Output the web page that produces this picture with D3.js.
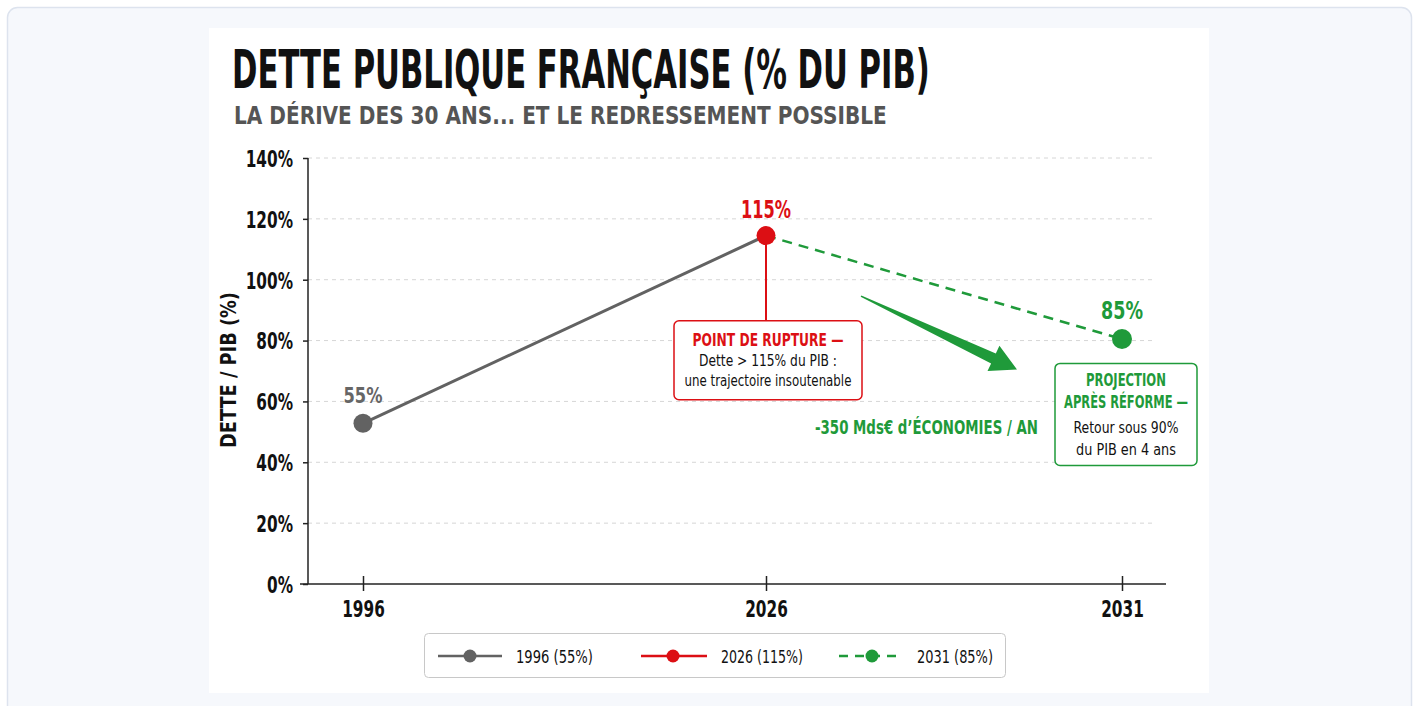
<!DOCTYPE html>
<html><head><meta charset="utf-8">
<script src="https://cdn.jsdelivr.net/npm/d3@7"></script>
<style>
html,body{margin:0;padding:0;background:#ffffff;}
svg{display:block;}
text{font-family:"DejaVu Sans Condensed","Liberation Sans Narrow",sans-serif;}
</style></head>
<body>
<svg id="chart" width="1416" height="706"></svg>
<script>
// ---- data ----
const years = ["1996", "2026", "2031"];
const debtValues = [52.8, 114.5, 80.5];        // plotted positions (% of GDP)
const debtLabels = ["55%", "115%", "85%"];      // value labels shown on chart
const yTicks = [0, 20, 40, 60, 80, 100, 120, 140];
const legendLabels = ["1996 (55%)", "2026 (115%)", "2031 (85%)"];
const seriesColors = ["#626262", "#dc0f14", "#1f9a3a"];
const title = "DETTE PUBLIQUE FRANÇAISE (% DU PIB)";
const subtitle = "LA DÉRIVE DES 30 ANS... ET LE REDRESSEMENT POSSIBLE";
const yAxisTitle = "DETTE / PIB (%)";
const ruptureLines = ["POINT DE RUPTURE —", "Dette > 115% du PIB :", "une trajectoire insoutenable"];
const projectionLines = ["PROJECTION", "APRÈS RÉFORME —", "Retour sous 90%", "du PIB en 4 ans"];
const savingsText = "-350 Mds€ d’ÉCONOMIES / AN";

const svg = d3.select("#chart");
// background card
svg.append("rect").attr("x",0).attr("y",0).attr("width",1416).attr("height",706).attr("fill","#ffffff");
svg.append("rect").attr("x",7.5).attr("y",7.5).attr("width",1404).attr("height",720).attr("rx",10)
  .attr("fill","#f6f8fc").attr("stroke","#dde3ee").attr("stroke-width",1.5);
svg.append("rect").attr("x",209).attr("y",28).attr("width",1000).attr("height",665).attr("fill","#ffffff");

// condense a text horizontally (the reference uses a narrow typeface)
function condense(sel, widthFn){
  sel.each(function(d,i){
    const t = d3.select(this);
    const n = this.getComputedTextLength();
    const w = typeof widthFn === "function" ? widthFn(d,i,n) : widthFn;
    const s = w / n;
    const x0 = +t.attr("x") || 0, y0 = +t.attr("y") || 0;
    const prev = t.attr("transform") || "";
    t.attr("x",0).attr("y",0).attr("transform", prev + ` translate(${x0},${y0}) scale(${s},1)`);
  });
  return sel;
}

// titles
condense(svg.append("text").attr("x",232).attr("y",87.5).attr("font-size",53).attr("font-weight",700)
  .attr("fill","#111").text(title), 698);
condense(svg.append("text").attr("x",234).attr("y",123.5).attr("font-size",24.5).attr("font-weight",700)
  .attr("fill","#555").text(subtitle), 653);

// scales
const x = d3.scaleLinear().domain(years.map(Number)).range([363, 766, 1122]);
const y = d3.scaleLinear().domain([0, 140]).range([584, 158]);

// grid
svg.append("g").selectAll("line").data(yTicks.filter(d=>d>0)).join("line")
  .attr("x1",308).attr("x2",1156).attr("y1",d=>y(d)).attr("y2",d=>y(d))
  .attr("stroke","#d6d6d6").attr("stroke-width",1).attr("stroke-dasharray","4,4");

// y axis
const yAxis = svg.append("g").attr("transform","translate(308,0)")
  .call(d3.axisLeft(y).tickValues(yTicks).tickFormat(d=>d+"%").tickSize(5).tickPadding(10));
yAxis.select(".domain").attr("stroke","#222").attr("stroke-width",1.5).attr("d","M0,158V584");
yAxis.selectAll(".tick line").attr("stroke","#222").attr("stroke-width",1.5);
const yt = yAxis.selectAll(".tick text").attr("font-size",23).attr("font-weight",700).attr("fill","#111")
  .attr("font-family",'"DejaVu Sans Condensed",sans-serif').attr("dy","0.36em");
condense(yt, (d,i,n)=>n*0.74);

// x axis
const xAxis = svg.append("g").attr("transform","translate(0,584)")
  .call(d3.axisBottom(x).tickValues(years.map(Number)).tickFormat(d=>String(d)).tickSizeInner(8).tickSizeOuter(0).tickPadding(9));
xAxis.select(".domain").attr("stroke","#222").attr("stroke-width",1.5).attr("d","M300,0H1166");
xAxis.selectAll(".tick line").attr("stroke","#222").attr("stroke-width",1.5).attr("y1",-8).attr("y2",7);
const xt = xAxis.selectAll(".tick text").attr("font-size",23).attr("font-weight",700).attr("fill","#111")
  .attr("font-family",'"DejaVu Sans Condensed",sans-serif');
condense(xt, (d,i,n)=>n*0.74);

// y axis title
svg.append("text").attr("transform","translate(236,370) rotate(-90)").attr("text-anchor","middle")
  .attr("font-size",21).attr("font-weight",700).attr("fill","#111").text(yAxisTitle)
  .attr("textLength",156).attr("lengthAdjust","spacingAndGlyphs");

const pts = years.map((yr,i)=>({x:x(+yr), y:y(debtValues[i])}));

// lines
svg.append("line").attr("x1",pts[0].x).attr("y1",pts[0].y).attr("x2",pts[1].x).attr("y2",pts[1].y)
  .attr("stroke",seriesColors[0]).attr("stroke-width",3);
svg.append("line").attr("x1",pts[1].x).attr("y1",pts[1].y).attr("x2",pts[2].x).attr("y2",pts[2].y)
  .attr("stroke",seriesColors[2]).attr("stroke-width",2.5).attr("stroke-dasharray","10,7");

// red connector to box
svg.append("line").attr("x1",pts[1].x).attr("x2",pts[1].x).attr("y1",pts[1].y).attr("y2",y(86.5))
  .attr("stroke",seriesColors[1]).attr("stroke-width",2);

// points
svg.append("g").selectAll("circle").data(pts).join("circle")
  .attr("cx",d=>d.x).attr("cy",d=>d.y).attr("r",(d,i)=>i===2?10:9.5)
  .attr("fill",(d,i)=>seriesColors[i]);

// value labels
const labelW = [39, 50, 42];
condense(svg.append("g").selectAll("text").data(pts).join("text")
  .attr("x",d=>d.x).attr("y",(d,i)=>d.y - [20,18,20][i])
  .attr("text-anchor","middle").attr("font-weight",700)
  .attr("font-size",(d,i)=>i===0?22:24)
  .attr("fill",(d,i)=>i===0?"#666":seriesColors[i]).text((d,i)=>debtLabels[i]), (d,i)=>labelW[i]);

// rupture box
const rb = {x:x(2026)-92, y:y(86.5), w:188, h:79};
svg.append("rect").attr("x",rb.x).attr("y",rb.y).attr("width",rb.w).attr("height",rb.h).attr("rx",5)
  .attr("fill","#fff").attr("stroke",seriesColors[1]).attr("stroke-width",1.5);
const rW = [151, 138, 167];
condense(svg.append("g").selectAll("text").data(ruptureLines).join("text")
  .attr("x",rb.x+rb.w/2).attr("y",(d,i)=>rb.y+[25,45,65][i]).attr("text-anchor","middle")
  .attr("font-size",(d,i)=>i===0?18:15.5).attr("font-weight",(d,i)=>i===0?700:400)
  .attr("fill",(d,i)=>i===0?seriesColors[1]:"#111").text(d=>d), (d,i)=>rW[i]);

// green arrow (tapered)
const a0 = [x(2026)+95, y(94.6)], a1 = [x(2026)+251, y(70.5)];
(function(){
  const dx=a1[0]-a0[0], dy=a1[1]-a0[1], L=Math.hypot(dx,dy), ux=dx/L, uy=dy/L, nx=-uy, ny=ux;
  const headLen=26, headW=14, neckW=5.5, tailW=0.8;
  const bx=a1[0]-ux*headLen, by=a1[1]-uy*headLen;
  const p=[[a0[0]+nx*tailW,a0[1]+ny*tailW],[bx+nx*neckW,by+ny*neckW],[bx+nx*headW,by+ny*headW],a1,
           [bx-nx*headW,by-ny*headW],[bx-nx*neckW,by-ny*neckW],[a0[0]-nx*tailW,a0[1]-ny*tailW]];
  svg.append("path").attr("d",d3.line()(p)+"Z").attr("fill",seriesColors[2]);
})();

condense(svg.append("text").attr("x",x(2026)+49).attr("y",y(49.2)).attr("font-size",19).attr("font-weight",700)
  .attr("fill",seriesColors[2]).text(savingsText), 223);

// projection box
const pb = {x:x(2031)-67, y:y(72.5), w:142, h:102};
svg.append("rect").attr("x",pb.x).attr("y",pb.y).attr("width",pb.w).attr("height",pb.h).attr("rx",5)
  .attr("fill","#fff").attr("stroke",seriesColors[2]).attr("stroke-width",1.5);
const pW = [80, 124, 105, 100];
condense(svg.append("g").selectAll("text").data(projectionLines).join("text")
  .attr("x",pb.x+pb.w/2).attr("y",(d,i)=>pb.y+[23,45,70,92][i]).attr("text-anchor","middle")
  .attr("font-size",(d,i)=>i<2?17:15.5).attr("font-weight",(d,i)=>i<2?700:400)
  .attr("fill",(d,i)=>i<2?seriesColors[2]:"#111").text(d=>d), (d,i)=>pW[i]);

// legend
const lg = svg.append("g");
lg.append("rect").attr("x",424.5).attr("y",633.5).attr("width",581).attr("height",44).attr("rx",4)
  .attr("fill","#fff").attr("stroke","#c8c8c8").attr("stroke-width",1);
const legendItems = [{x1:438,x2:502,cx:470,tx:516,w:77},{x1:641,x2:707,cx:673,tx:721,w:82},{x1:839,x2:903,cx:872,tx:917,w:76}];
legendItems.forEach((it,i)=>{
  lg.append("line").attr("x1",it.x1).attr("x2",it.x2).attr("y1",656).attr("y2",656)
    .attr("stroke",seriesColors[i]).attr("stroke-width",2.5)
    .attr("stroke-dasharray",i===2?"9,7":null);
  lg.append("circle").attr("cx",it.cx).attr("cy",656).attr("r",6.5).attr("fill",seriesColors[i]);
  condense(lg.append("text").attr("x",it.tx).attr("y",663).attr("font-size",18).attr("fill","#111").text(legendLabels[i]), it.w);
});
</script>
</body></html>
